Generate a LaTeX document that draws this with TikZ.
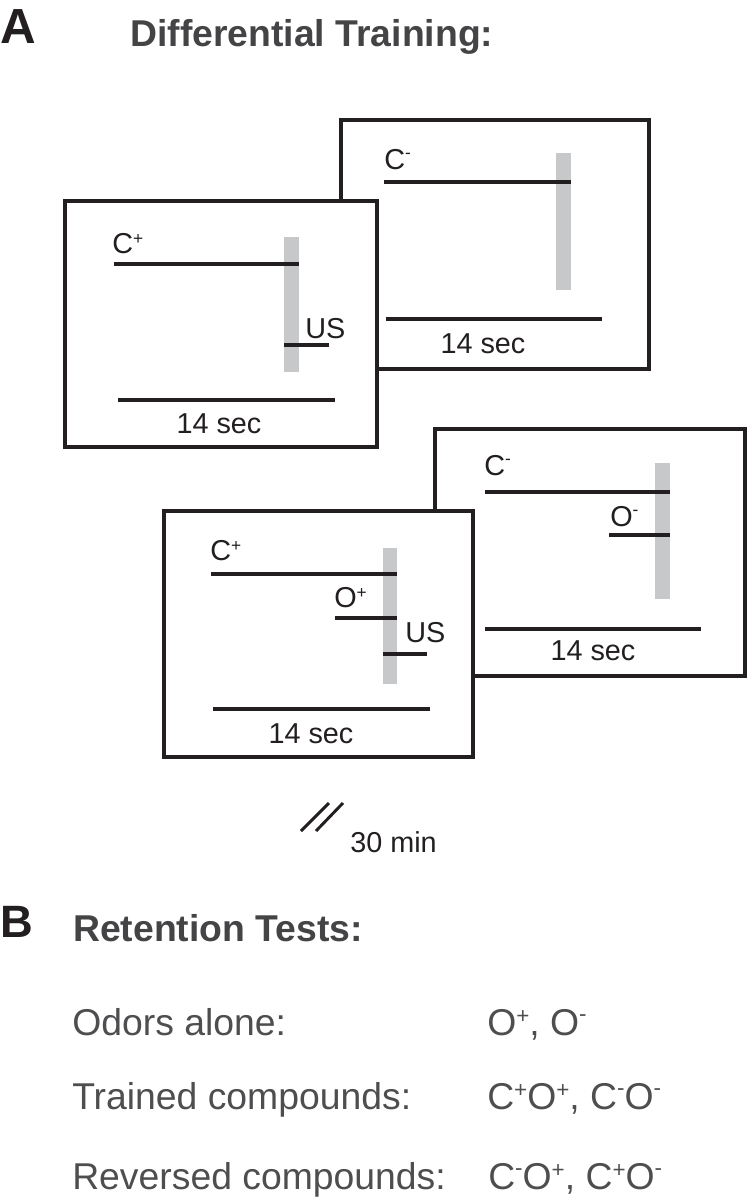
\documentclass[tikz,border=0pt]{standalone}
\usepackage{fontspec}
\usepackage{graphicx}
\setmainfont{Liberation Sans}
\definecolor{ink}{RGB}{35,31,32}
\definecolor{barc}{RGB}{199,200,202}
\definecolor{titc}{RGB}{68,68,70}
\definecolor{bodyc}{RGB}{78,78,80}
\newcommand\pl{\raisebox{0.3em}{\scalebox{0.6}{+}}}
\newcommand\mi{\raisebox{0.36em}{\scalebox{0.6}{-}}}
\begin{document}
\begin{tikzpicture}[x=0.75pt,y=-0.75pt,
  frame/.style={draw=ink,line width=2.4pt,fill=white},
  stim/.style={draw=ink,line width=2.5pt},
  bar/.style={fill=barc,draw=none},
  lbl/.style={anchor=base west,inner sep=0pt,text=ink,font=\fontsize{21.6pt}{25pt}\selectfont},
  sec/.style={anchor=base,inner sep=0pt,text=ink,font=\fontsize{21.6pt}{25pt}\selectfont},
  panel/.style={anchor=base west,inner sep=0pt,text=ink,font=\fontsize{37pt}{40pt}\selectfont\bfseries},
  title/.style={anchor=base west,inner sep=0pt,text=titc,font=\fontsize{28pt}{32pt}\selectfont\bfseries},
  body/.style={anchor=base west,inner sep=0pt,text=bodyc,font=\fontsize{28pt}{32pt}\selectfont}]
\useasboundingbox (0,0) rectangle (746,1199);

% headings
\node[panel] (pa) at (0,43) {A};
\node[title] (ta) at (130,46) {Differential Training:};

% box 1 (back, C-)
\draw[frame] (341,120) rectangle (649,369);
\fill[bar] (556,153) rectangle (571,290);
\draw[stim] (384,182) -- (571,182);
\draw[stim] (386,319) -- (602,319);
\node[lbl] (c1) at (384,169) {C\mi};
\node[sec] (s1) at (483,353) {14 sec};

% box 2 (front, C+ US)
\draw[frame] (65,201) rectangle (377,447);
\fill[bar] (284,237) rectangle (299,372);
\draw[stim] (114,264) -- (299,264);
\draw[stim] (284,345) -- (329,345);
\draw[stim] (118,400) -- (335,400);
\node[lbl] (c2) at (112,253) {C\pl};
\node[lbl] (us2) at (305,338) {US};
\node[sec] (s2) at (219,433) {14 sec};

% box 3 (back, C- O-)
\draw[frame] (435,429) rectangle (745,676);
\fill[bar] (655,463) rectangle (670,599);
\draw[stim] (485,492) -- (670,492);
\draw[stim] (609,535) -- (670,535);
\draw[stim] (485,629) -- (701,629);
\node[lbl] (c3) at (484,475) {C\mi};
\node[lbl] (o3) at (610,526) {O\mi};
\node[sec] (s3) at (593,660) {14 sec};

% box 4 (front, C+ O+ US)
\draw[frame] (164,511) rectangle (473,757);
\fill[bar] (383,548) rectangle (397,684);
\draw[stim] (211,574) -- (397,574);
\draw[stim] (335,618) -- (397,618);
\draw[stim] (383,654) -- (427,654);
\draw[stim] (213,709) -- (430,709);
\node[lbl] (c4) at (210,560) {C\pl};
\node[lbl] (o4) at (334,607) {O\pl};
\node[lbl] (us4) at (405,642) {US};
\node[sec] (s4) at (311,743) {14 sec};

% interval mark
\draw[stim,line width=2.2pt] (301,831) -- (329,803);
\draw[stim,line width=2.2pt] (316,831) -- (343,803);
\node[lbl] (tm) at (350,852) {30 min};

% panel B
\node[panel,font=\fontsize{34pt}{38pt}\selectfont\bfseries] (pb) at (0,937) {B};
\node[title] (tb) at (73,941) {Retention Tests:};
\node[body] (r1) at (72,1035) {Odors alone:};
\node[body] (v1) at (487,1035) {O\pl, O\mi};
\node[body] (r2) at (72,1109) {Trained compounds:};
\node[body] (v2) at (487,1109) {C\pl O\pl, C\mi O\mi};
\node[body] (r3) at (72,1189) {Reversed compounds:};
\node[body] (v3) at (488,1189) {C\mi O\pl, C\pl O\mi};
\end{tikzpicture}
\end{document}
